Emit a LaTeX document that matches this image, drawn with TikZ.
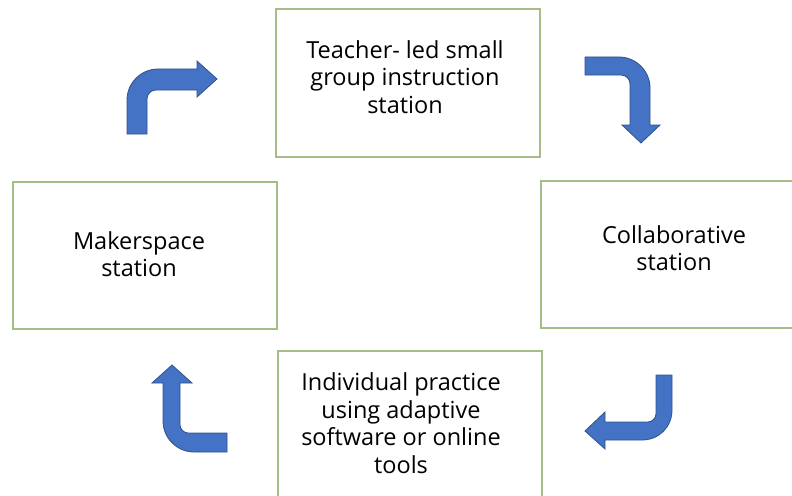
\documentclass[tikz,border=0pt]{standalone}
\usepackage{fontspec}
\setmainfont{Open Sans}
\definecolor{boxgreen}{RGB}{165,188,135}
\definecolor{arrowfill}{RGB}{68,114,196}
\definecolor{arrowline}{RGB}{47,82,143}
\tikzset{
  stationbox/.style={draw=boxgreen, line width=1.2pt, fill=white, minimum width=#1, inner sep=0pt},
  stationtext/.style={align=center, font=\fontsize{23.5}{27.5}\selectfont, text=black, inner sep=0pt},
  bentarrow/.style={fill=arrowfill, draw=arrowline, line width=0.8pt, line join=miter}
}
\begin{document}
\begin{tikzpicture}[x=1pt,y=-1pt]
\useasboundingbox (0,0) rectangle (792,495);
% boxes
\node[stationbox=264pt, minimum height=148pt] (teacher) at (408,83) {};
\node[stationbox=264pt, minimum height=147pt] (maker) at (145,255.5) {};
\node[stationbox=262pt, minimum height=147pt] (collab) at (672,254.5) {};
\node[stationbox=264pt, minimum height=160pt] (indiv) at (410,431) {};
% texts
\node[stationtext] (teacherT) at (405,77) {Teacher- led small\\group instruction\\station};
\node[stationtext] (makerT) at (139,254) {Makerspace\\station};
\node[stationtext] (collabT) at (674,248) {Collaborative\\station};
\node[stationtext] (indivT) at (401,423) {Individual practice\\using adaptive\\software or online\\tools};
% arrows
\draw[bentarrow] (127,134) -- (127,100) .. controls (127,83) and (141,69) .. (158,69)
  -- (197,69) -- (197,61) -- (217,79) -- (197,97) -- (197,90) -- (156,90)
  .. controls (151,90) and (147,94) .. (147,99) -- (147,134) -- cycle;
\draw[bentarrow] (585,57) -- (619,57) .. controls (636,57) and (650,71) .. (650,88)
  -- (650,125) -- (660,125) -- (641,143) -- (622,125) -- (630,125) -- (630,84)
  .. controls (630,79) and (626,75) .. (621,75) -- (585,75) -- cycle;
\draw[bentarrow] (656,375) -- (672,375) -- (672,410) .. controls (672,427) and (659,440) .. (642,440)
  -- (605,440) -- (605,449) -- (585,431) -- (605,412) -- (605,422) -- (648,422)
  .. controls (652,422) and (656,418) .. (656,414) -- cycle;
\draw[bentarrow] (227,433) -- (188,433) .. controls (184,433) and (180,429) .. (180,425)
  -- (180,383) -- (192,383) -- (172,365) -- (152,383) -- (163,383) -- (163,421)
  .. controls (163,438) and (177,452) .. (194,452) -- (227,452) -- cycle;
\end{tikzpicture}
\end{document}
